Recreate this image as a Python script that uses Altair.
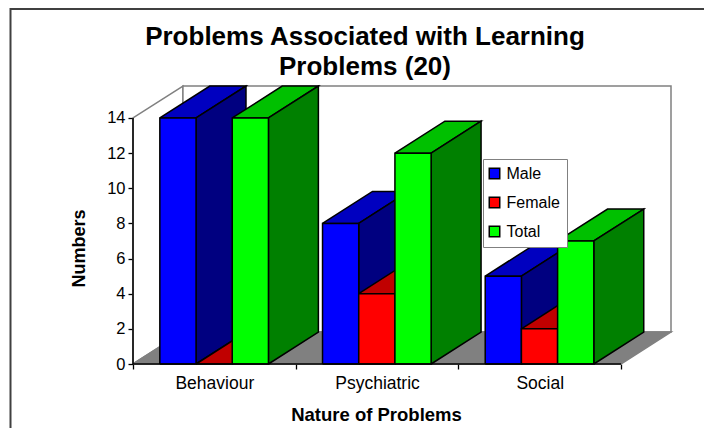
import altair as alt
import pandas as pd

categories = ["Behaviour", "Psychiatric", "Social"]
series = ["Male", "Female", "Total"]
male = [14, 8, 5]
female = [0, 4, 2]
total = [14, 12, 7]
y_ticks = [0, 2, 4, 6, 8, 10, 12, 14]
front_colors = ["#0000ff", "#ff0000", "#00ff00"]
top_colors = ["#0000c0", "#c00000", "#00c000"]
side_colors = ["#000080", "#800000", "#008000"]

FONT = "Liberation Sans"
# 3-D layout in axis units
Y_MAX = 14
N = len(categories)
DX = 0.307     # depth along x
DY = 1.82      # depth along y
GAP = 0.165    # space before first bar in each category
BW = 0.2225    # bar width

rows = []


def poly(pid, face, pts):
    for k, (px, py) in enumerate(list(pts) + [pts[0]]):
        rows.append({"poly": pid, "seq": k, "x": px, "y": py, "face": face})


def bar(pid, name, left, v):
    right = left + BW
    poly(pid + "t", name + " top", [(left, v), (right, v), (right + DX, v + DY), (left + DX, v + DY)])
    poly(pid + "s", name + " side", [(right, 0), (right + DX, DY), (right + DX, v + DY), (right, v)])
    if v > 0:
        poly(pid + "f", name, [(left, 0), (right, 0), (right, v), (left, v)])


for c in range(N):
    for s, (name, vals) in enumerate(zip(series, [male, female, total])):
        bar(f"{c:02d}{s}", name, c + GAP + s * BW, vals[c])
bars = pd.DataFrame(rows)

rows = []
poly("a", "Wall", [(0, 0), (DX, DY), (DX, Y_MAX + DY), (0, Y_MAX)])
poly("b", "Wall", [(DX, DY), (N + DX, DY), (N + DX, Y_MAX + DY), (DX, Y_MAX + DY)])
poly("c", "Floor", [(0, 0), (N, 0), (N + DX, DY), (DX, DY)])
walls = pd.DataFrame(rows)

domain = series + [n + " top" for n in series] + [n + " side" for n in series] + ["Wall", "Floor"]
rng = front_colors + top_colors + side_colors + ["#ffffff", "#808080"]

x_scale = alt.Scale(domain=[0, N + DX], nice=False, zero=False)
y_scale = alt.Scale(domain=[0, Y_MAX + DY], nice=False, zero=False)
fill_scale = alt.Scale(domain=domain, range=rng)

x_vals = [0, 0.5, 1, 1.5, 2, 2.5, 3]
label_expr = "datum.value==0.5?'Behaviour':datum.value==1.5?'Psychiatric':datum.value==2.5?'Social':''"

x_enc = alt.X(
    "x:Q", scale=x_scale,
    axis=alt.Axis(
        values=x_vals, tickCount=len(x_vals), labelExpr=label_expr, grid=False, domain=False,
        tickColor="black", tickSize=5, tickWidth=1.3,
        tickOpacity={"condition": {"test": "datum.value % 1 == 0", "value": 1}, "value": 0},
        labelFont=FONT, labelFontSize=17.5, labelColor="black", labelPadding=5,
        labelFlush=False, labelOverlap=False,
        title="Nature of Problems", titleFont=FONT, titleFontSize=18.5, titleFontWeight="bold",
        titleColor="black", titleX=243, titleY=56, titleBaseline="alphabetic",
    ),
)
y_enc = alt.Y(
    "y:Q", scale=y_scale,
    axis=alt.Axis(
        values=y_ticks, tickCount=len(y_ticks), grid=False, domain=False,
        tickColor="black", tickSize=5, tickWidth=1.3,
        labelFont=FONT, labelFontSize=16.5, labelColor="black", labelPadding=3, labelOverlap=False,
        title="Numbers", titleFont=FONT, titleFontSize=18, titleFontWeight="bold",
        titleColor="black", titleX=-49, titleY=162, titleAngle=-90, titleBaseline="alphabetic",
    ),
)
legend = alt.Legend(
    values=series, title=None, orient="none", legendX=350, legendY=73,
    fillColor="white", strokeColor="#808080", padding=6.5,
    symbolType="square", symbolSize=110, symbolStrokeColor="black", symbolStrokeWidth=1.5,
    symbolOffset=-3,
    labelFont=FONT, labelFontSize=16, labelColor="black", labelOffset=4, rowPadding=11,
)

wall_layer = alt.Chart(walls).mark_line(stroke="#808080", strokeWidth=1.5, strokeJoin="miter").encode(
    x=x_enc, y=y_enc,
    fill=alt.Fill("face:N", scale=fill_scale, legend=legend),
    detail="poly:N", order=alt.Order("seq:Q"),
)
bar_layer = alt.Chart(bars).mark_line(stroke="black", strokeWidth=1.5, strokeJoin="miter").encode(
    x=alt.X("x:Q", scale=x_scale), y=alt.Y("y:Q", scale=y_scale),
    fill=alt.Fill("face:N", scale=fill_scale),
    detail="poly:N", order=alt.Order("seq:Q"),
)
x_line = alt.Chart(pd.DataFrame({"x": [0], "x2": [N], "y": [0]})).mark_rule(color="black", strokeWidth=1.5).encode(
    x=alt.X("x:Q", scale=x_scale), x2="x2:Q", y=alt.Y("y:Q", scale=y_scale))
y_line = alt.Chart(pd.DataFrame({"x": [0], "y": [0], "y2": [Y_MAX]})).mark_rule(color="black", strokeWidth=1.5).encode(
    x=alt.X("x:Q", scale=x_scale), y=alt.Y("y:Q", scale=y_scale), y2="y2:Q")
frame_h = alt.Chart(pd.DataFrame({"k": [0]})).mark_rule(color="#404040", strokeWidth=2).encode(
    x=alt.value(-122.5), x2=alt.value(571), y=alt.value(-77))
frame_v = alt.Chart(pd.DataFrame({"k": [0]})).mark_rule(color="#404040", strokeWidth=2).encode(
    x=alt.value(-122.5), y=alt.value(-78), y2=alt.value(345))

chart = alt.layer(wall_layer, bar_layer, x_line, y_line, frame_h, frame_v).properties(
    width=538, height=278,
    title=alt.TitleParams(
        ["Problems Associated with Learning", "Problems (20)"],
        font=FONT, fontSize=26, fontWeight="bold", color="black", lineHeight=30,
        anchor="middle", dx=-37, offset=-73,
    ),
    autosize=alt.AutoSizeParams(type="none"),
    padding={"left": 125, "top": 78, "right": 33, "bottom": 64},
).configure_view(stroke=None)

chart.save("out.html", embed_options={"renderer": "svg", "actions": False})
